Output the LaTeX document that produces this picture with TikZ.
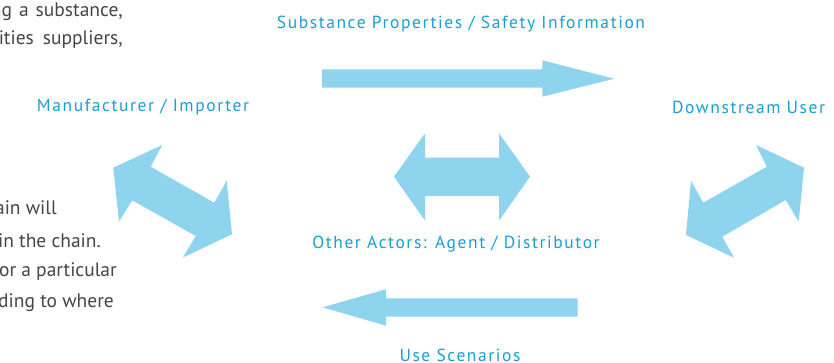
\documentclass[tikz,border=0pt]{standalone}
\usepackage{fontspec}
\usepackage{tikz}
\usetikzlibrary{positioning}
\setmainfont{PT Sans}
\newfontfamily\actorfont[LetterSpace=9]{PT Sans}
\definecolor{arrowblue}{HTML}{8FD4EE}
\definecolor{labelblue}{HTML}{1A9ED2}
\definecolor{notegray}{HTML}{454545}

\begin{document}
\begin{tikzpicture}[x=1pt,y=-1pt]
	\tikzset{every node/.style={inner sep=0pt}}
	\tikzset{blockarrow/.style={fill=arrowblue,draw=none}}
	\tikzset{actor/.style={text=labelblue,font=\actorfont\fontsize{17.5}{20}\selectfont}}
	\tikzset{note/.style={text=notegray,anchor=east,font=\fontsize{19.5}{22}\selectfont}}
	\useasboundingbox (0,0) rectangle (834,363);
	\clip (0,0) rectangle (834,363);
	% paragraph cut at the left border
	\node[note] (n1) at (123,12)  {ing\hspace{7pt}a\hspace{7pt}substance,};
	\node[note] (n2) at (123,40)  {ities\hspace{9pt}suppliers,};
	\node[note] (n3) at (57,208)  {chain will};
	\node[note] (n4) at (101,241) {in the chain.};
	\node[note] (n5) at (117,272) {for a particular};
	\node[note] (n6) at (114,303) {cording to where};
	% actors and flows
	\node[actor] (info)  at (461,24)  {Substance Properties / Safety Information};
	\node[actor] (manu)  at (143,107) {Manufacturer / Importer};
	\node[actor,anchor=west] (user) at (672,107) {Downstream User};
	\node[actor] (other) at (456,244) {Other Actors: Agent / Distributor};
	\node[actor] (use)   at (460,355) {Use Scenarios};
	% arrows
	\fill[blockarrow] (322,69.3) -- (542.3,69.3) -- (542.3,60.3) -- (614,78.7)
		-- (542.3,96.7) -- (542.3,87.7) -- (322,87.7) -- cycle;
	\fill[blockarrow] (577.7,298.3) -- (386,298.3) -- (386,289.3) -- (322.7,307.3)
		-- (386,325.7) -- (386,316.7) -- (577.7,316.7) -- cycle;
	\fill[blockarrow] (394,176.7) -- (425,133.3) -- (425,157.7) -- (499,157.7) -- (499,133.3)
		-- (530,176.7) -- (499,220.7) -- (499,196) -- (425,196) -- (425,220.7) -- cycle;
	\fill[blockarrow] (113.3,167.7) -- (162.3,145) -- (150.7,166.7) -- (214.3,202.7)
		-- (226.7,180.7) -- (232,234.3) -- (182.7,257.7) -- (195.7,236) -- (132.3,200.3)
		-- (119,221.7) -- cycle;
	\fill[blockarrow] (804,167.7) -- (756,145) -- (766.7,166.7) -- (703.3,202.7)
		-- (691,181) -- (686,235) -- (734,257.7) -- (722.3,236.7) -- (785.7,200)
		-- (798.7,221.7) -- cycle;
\end{tikzpicture}
\end{document}
